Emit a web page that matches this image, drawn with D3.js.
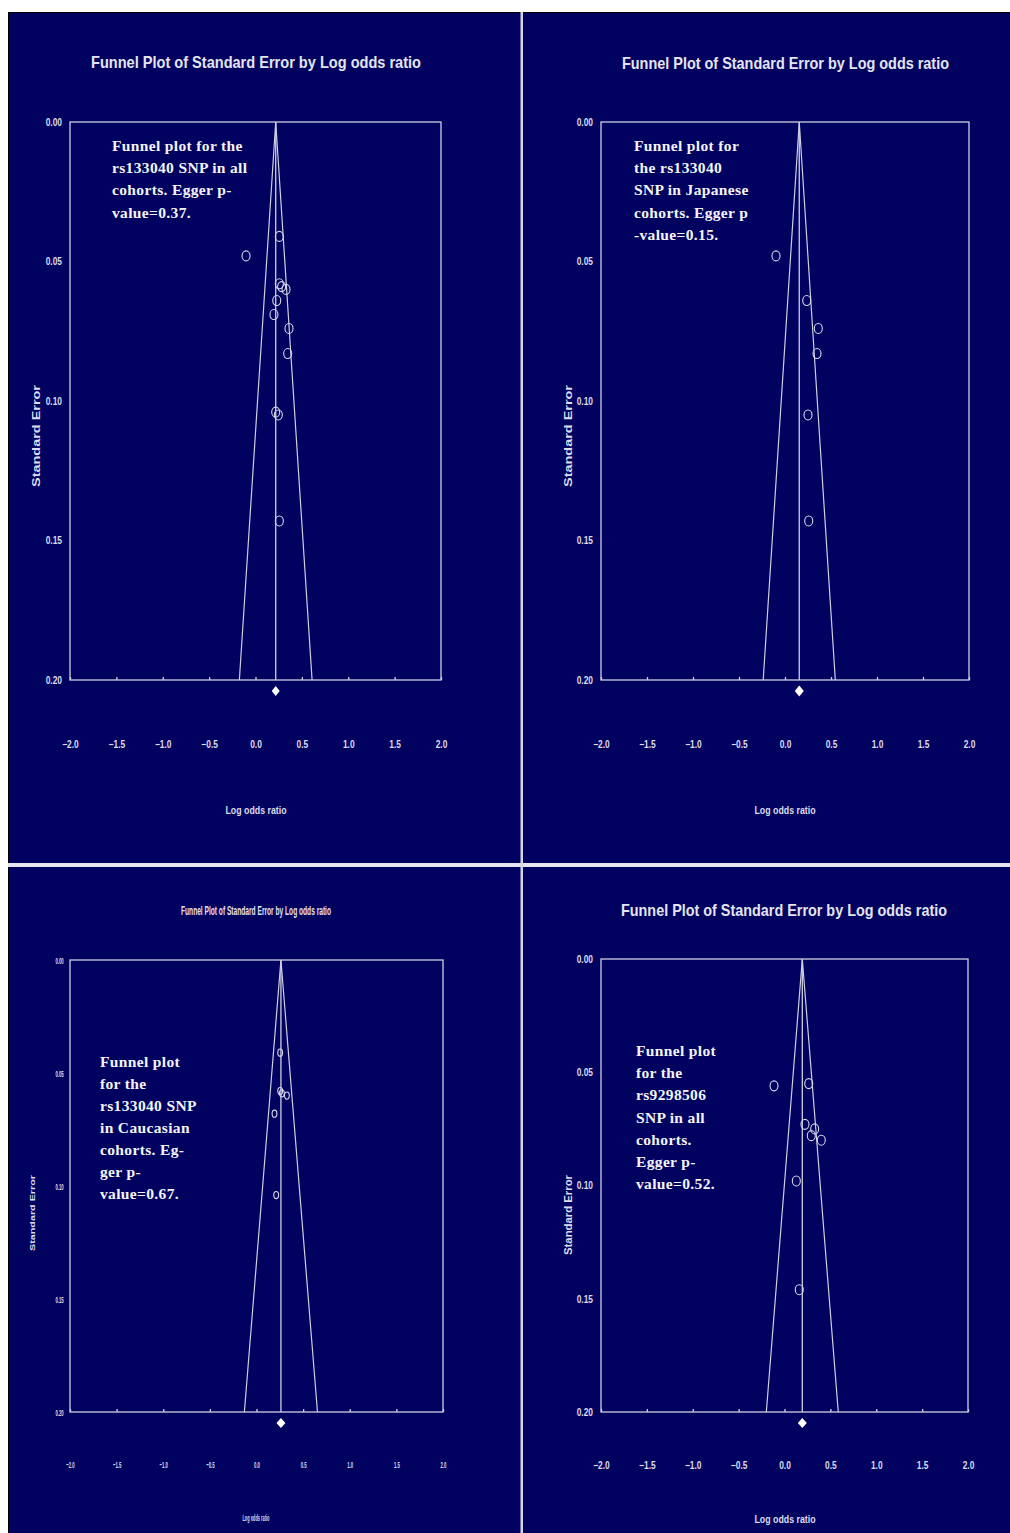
<!DOCTYPE html>
<html>
<head>
<meta charset="utf-8">
<script src="https://cdn.jsdelivr.net/npm/d3@7"></script>
<style>
  html, body { margin: 0; padding: 0; background: #ffffff; }
  svg { display: block; }
</style>
</head>
<body>
<script>
// Funnel plots: standard error vs log odds ratio for four meta-analyses.

const xTicks = [-2.0, -1.5, -1.0, -0.5, 0.0, 0.5, 1.0, 1.5, 2.0];
const seTicks = [0.00, 0.05, 0.10, 0.15, 0.20];

// rs133040, all cohorts
const allLogOR = [0.257, -0.102, 0.257, 0.282, 0.329, 0.229, 0.199, 0.361, 0.347, 0.218, 0.246, 0.257];
const allSE    = [0.041, 0.048, 0.058, 0.059, 0.060, 0.064, 0.069, 0.074, 0.083, 0.104, 0.105, 0.143];

// rs133040, Japanese cohorts
const japLogOR = [-0.098, 0.236, 0.362, 0.348, 0.250, 0.258];
const japSE    = [0.048, 0.064, 0.074, 0.083, 0.105, 0.143];

// rs133040, Caucasian cohorts
const cauLogOR = [0.254, 0.254, 0.272, 0.326, 0.193, 0.211];
const cauSE    = [0.041, 0.058, 0.059, 0.060, 0.068, 0.104];

// rs9298506, all cohorts
const rsLogOR = [-0.114, 0.264, 0.223, 0.329, 0.292, 0.401, 0.129, 0.161];
const rsSE    = [0.056, 0.055, 0.073, 0.075, 0.078, 0.080, 0.098, 0.146];

// pooled log odds ratio of each analysis
const pooledLogOR = [0.218, 0.155, 0.262, 0.194];

const titleText = "Funnel Plot of Standard Error by Log odds ratio";
const xLabelText = "Log odds ratio";
const yLabelText = "Standard Error";

const notes = [
  ["Funnel plot for the", "rs133040 SNP in all", "cohorts. Egger p-", "value=0.37."],
  ["Funnel plot for", "the rs133040", "SNP in Japanese", "cohorts. Egger p", "-value=0.15."],
  ["Funnel plot", "for the", "rs133040 SNP", "in Caucasian", "cohorts. Eg-", "ger p-", "value=0.67."],
  ["Funnel plot", "for the", "rs9298506", "SNP in all", "cohorts.", "Egger p-", "value=0.52."]
];

const series = [
  { x: allLogOR, y: allSE },
  { x: japLogOR, y: japSE },
  { x: cauLogOR, y: cauSE },
  { x: rsLogOR,  y: rsSE }
];

const W = 1010, H = 1533;
const BG = "#010160";
const INK = "#cfcfe2";
const NOTE = "#f4f4f8";

// panel geometry and type styling
const panels = [
  { x0: 70,  x1: 441, y0: 122, y1: 680,
    titleX: 256, titleY: 68, titleSize: 17, titleLen: 330,
    tickSize: 10.5, tickScale: 0.8, xTickY: 749 - 680, yPad: 10,
    xLabX: 256, xLabY: 814, xLabSize: 11.5, xLabLen: 61,
    yLabX: 40, yLabY: 436, yLabSize: 11, yLabLen: 102,
    noteX: 112, noteY: 151, noteStep: 22.2, rx: 4, ry: 5, dia: [4, 5] },
  { x0: 601, x1: 969, y0: 122, y1: 680,
    titleX: 785.5, titleY: 69, titleSize: 17, titleLen: 327,
    tickSize: 10.5, tickScale: 0.8, xTickY: 749 - 680, yPad: 10,
    xLabX: 785, xLabY: 814, xLabSize: 11.5, xLabLen: 61,
    yLabX: 572, yLabY: 436, yLabSize: 11, yLabLen: 102,
    noteX: 634, noteY: 151, noteStep: 22.2, rx: 4, ry: 5, dia: [4.5, 5.5] },
  { x0: 70,  x1: 443, y0: 960, y1: 1412,
    titleX: 256, titleY: 915, titleSize: 12, titleLen: 150,
    tickSize: 9.5, tickScale: 0.45, xTickY: 1469 - 1412, yPad: 14,
    xLabX: 256, xLabY: 1521, xLabSize: 9, xLabLen: 27,
    yLabX: 35, yLabY: 1213, yLabSize: 6.5, yLabLen: 76,
    noteX: 100, noteY: 1067, noteStep: 22, rx: 2.4, ry: 3.6, dia: [4.5, 5] },
  { x0: 601, x1: 968, y0: 959, y1: 1412,
    titleX: 784, titleY: 916, titleSize: 17, titleLen: 326,
    tickSize: 10.5, tickScale: 0.8, xTickY: 1470 - 1412, yPad: 10,
    xLabX: 785, xLabY: 1523, xLabSize: 11.5, xLabLen: 61,
    yLabX: 572, yLabY: 1215, yLabSize: 11, yLabLen: 80,
    noteX: 636, noteY: 1056, noteStep: 22.2, rx: 4, ry: 5, dia: [4.5, 5] }
];

const svg = d3.select("body").append("svg")
  .attr("width", W).attr("height", H)
  .attr("viewBox", `0 0 ${W} ${H}`);

// page background with the dark plotting field
svg.append("rect").attr("x", 0).attr("y", 0).attr("width", W).attr("height", H).attr("fill", "#ffffff");
svg.append("rect").attr("x", 8).attr("y", 12).attr("width", W - 8).attr("height", H - 12).attr("fill", BG);
svg.append("line").attr("x1", 8).attr("x2", W).attr("y1", 12.5).attr("y2", 12.5).attr("stroke", "#000000").attr("stroke-width", 1);
svg.append("line").attr("x1", 8.5).attr("x2", 8.5).attr("y1", 12).attr("y2", H).attr("stroke", "#000000").attr("stroke-width", 1);

// white separators between the four panels
svg.append("rect").attr("x", 8).attr("y", 863).attr("width", W - 8).attr("height", 4).attr("fill", "#e6e6f2");
svg.append("rect").attr("x", 520.5).attr("y", 12).attr("width", 2.5).attr("height", H - 12).attr("fill", "#d4d4e6");

const fmtX = d3.format(".1f");
const fmtY = d3.format(".2f");

panels.forEach((p, i) => {
  const g = svg.append("g");
  const x = d3.scaleLinear().domain([-2, 2]).range([p.x0, p.x1]);
  const y = d3.scaleLinear().domain([0, 0.2]).range([p.y0, p.y1]);
  const d = series[i];
  const m = pooledLogOR[i];
  const seMax = seTicks[seTicks.length - 1];

  // title
  g.append("text")
    .attr("x", p.titleX).attr("y", p.titleY)
    .attr("text-anchor", "middle")
    .attr("font-family", "'Liberation Sans', Arial, sans-serif")
    .attr("font-weight", "bold")
    .attr("font-size", p.titleSize)
    .attr("fill", "#e4e4f0")
    .attr("textLength", p.titleLen)
    .attr("lengthAdjust", "spacingAndGlyphs")
    .text(titleText);

  // plot frame
  g.append("rect")
    .attr("x", p.x0).attr("y", p.y0)
    .attr("width", p.x1 - p.x0).attr("height", p.y1 - p.y0)
    .attr("fill", "none").attr("stroke", INK).attr("stroke-width", 1.3);

  // bottom axis: short upward ticks, labels well below
  const xAxis = d3.axisBottom(x)
    .tickValues(xTicks)
    .tickFormat(fmtX)
    .tickSizeInner(-3)
    .tickSizeOuter(0)
    .tickPadding(p.xTickY - 8);
  const gx = g.append("g").attr("transform", `translate(0,${p.y1})`).call(xAxis);
  gx.select(".domain").remove();
  gx.selectAll(".tick line").attr("stroke", INK).attr("stroke-width", 1.3);
  gx.selectAll(".tick text")
    .attr("fill", "#dcdcec")
    .attr("font-family", "'Liberation Sans', Arial, sans-serif")
    .attr("font-weight", "bold")
    .attr("font-size", p.tickSize)
    .attr("transform", `scale(${p.tickScale},1)`);

  // left axis: labels only
  const yAxis = d3.axisLeft(y)
    .tickValues(seTicks)
    .tickFormat(fmtY)
    .tickSize(0)
    .tickPadding(p.yPad);
  const gy = g.append("g").attr("transform", `translate(${p.x0},0)`).call(yAxis);
  gy.select(".domain").remove();
  gy.selectAll(".tick text")
    .attr("fill", "#dcdcec")
    .attr("font-family", "'Liberation Sans', Arial, sans-serif")
    .attr("font-weight", "bold")
    .attr("font-size", p.tickSize)
    .attr("transform", `scale(${p.tickScale},1)`);

  // axis titles
  g.append("text")
    .attr("x", p.xLabX).attr("y", p.xLabY)
    .attr("text-anchor", "middle")
    .attr("font-family", "'Liberation Sans', Arial, sans-serif")
    .attr("font-weight", "bold")
    .attr("font-size", p.xLabSize)
    .attr("fill", "#dcdcec")
    .attr("textLength", p.xLabLen)
    .attr("lengthAdjust", "spacingAndGlyphs")
    .text(xLabelText);

  g.append("text")
    .attr("transform", `translate(${p.yLabX},${p.yLabY}) rotate(-90)`)
    .attr("text-anchor", "middle")
    .attr("font-family", "'Liberation Sans', Arial, sans-serif")
    .attr("font-weight", "bold")
    .attr("font-size", p.yLabSize)
    .attr("fill", "#dcdcec")
    .attr("textLength", p.yLabLen)
    .attr("lengthAdjust", "spacingAndGlyphs")
    .text(yLabelText);

  // 95% pseudo-confidence funnel around the pooled estimate
  const half = 1.96 * seMax;
  const funnel = d3.line().x(v => x(v[0])).y(v => y(v[1]));
  g.append("path")
    .attr("d", funnel([[m - half, seMax], [m, 0], [m + half, seMax]]))
    .attr("fill", "none").attr("stroke", INK).attr("stroke-width", 1.2);
  g.append("line")
    .attr("x1", x(m)).attr("x2", x(m))
    .attr("y1", y(0)).attr("y2", y(seMax))
    .attr("stroke", INK).attr("stroke-width", 1.3);

  // studies
  g.selectAll("ellipse.study")
    .data(d.x.map((v, k) => [v, d.y[k]]))
    .join("ellipse")
    .attr("class", "study")
    .attr("cx", v => x(v[0]))
    .attr("cy", v => y(v[1]))
    .attr("rx", p.rx).attr("ry", p.ry)
    .attr("fill", "none").attr("stroke", "#d8d8ea").attr("stroke-width", 1.1);

  // pooled estimate diamond
  const cx = x(m), cy = p.y1 + 11;
  const [dw, dh] = p.dia;
  g.append("path")
    .attr("d", `M${cx},${cy - dh}L${cx + dw},${cy}L${cx},${cy + dh}L${cx - dw},${cy}Z`)
    .attr("fill", "#ffffff");

  // annotation
  const t = g.append("text")
    .attr("font-family", "'Liberation Serif', 'Times New Roman', serif")
    .attr("font-weight", "bold")
    .attr("font-size", 15.5)
    .attr("letter-spacing", 0.35)
    .attr("fill", NOTE);
  notes[i].forEach((line, k) => {
    t.append("tspan").attr("x", p.noteX).attr("y", p.noteY + k * p.noteStep).text(line);
  });
});
</script>
</body>
</html>
